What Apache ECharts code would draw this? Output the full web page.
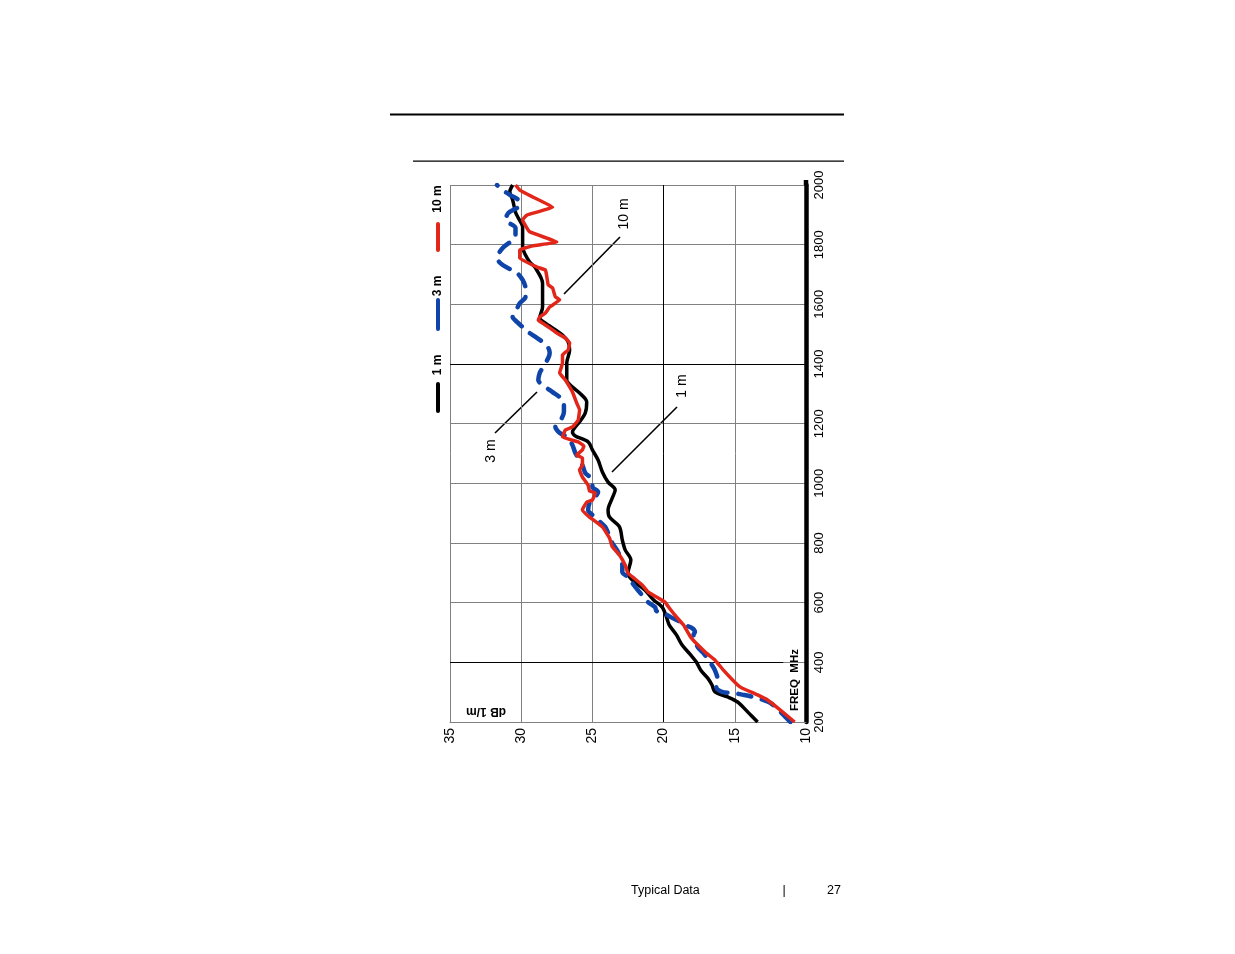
<!DOCTYPE html>
<html>
<head>
<meta charset="utf-8">
<script src="https://cdn.jsdelivr.net/npm/echarts@6/dist/echarts.min.js"></script>
<style>
html,body{margin:0;padding:0;background:#fff;}
#chart{width:1235px;height:954px;}
</style>
</head>
<body>
<div id="chart"></div>
<script>
// ---- data (frequency in MHz, field strength in dB 1/m) ----
const freq1m = [200,234,267,284,301,324,347,374,401,425,458,492,525,552,585,609,642,676,699,743,777,810,854,887,911,951,978,1004,1038,1078,1112,1139,1159,1172,1189,1206,1236,1273,1303,1323,1346,1403,1447,1474,1497,1521,1537,1554,1591,1648,1671,1722,1742,1765,1792,1826,1859,1889,1909,1950,1977,2000];
const db1m   = [13.4,14.1,14.8,15.5,16.4,16.6,16.9,17.4,17.7,18.1,18.7,19.1,19.6,19.8,20.1,20.7,21.3,22.2,22.5,22.3,22.7,22.9,23.1,23.8,23.9,23.6,23.4,23.9,24.3,24.6,25.0,25.3,26.2,26.4,26.2,25.9,25.5,25.4,25.9,26.4,26.8,26.8,26.6,26.7,27.1,27.8,28.3,28.7,28.5,28.5,28.5,29.0,29.4,29.7,29.9,29.9,29.9,30.2,30.4,30.6,30.8,30.6];

const freq3m = [200,234,264,274,284,291,297,301,317,341,374,398,431,451,492,502,515,525,535,549,565,572,585,602,619,636,666,683,703,726,770,800,834,854,877,894,911,934,944,971,988,1011,1035,1061,1085,1102,1128,1152,1169,1179,1189,1206,1239,1269,1289,1306,1323,1346,1370,1387,1420,1437,1454,1474,1491,1507,1524,1541,1558,1574,1604,1625,1655,1682,1705,1732,1755,1789,1816,1833,1856,1883,1906,1933,1950,1967,1983,2000];
const db3m   = [11.1,11.8,12.5,13.0,13.7,14.4,15.1,15.9,16.3,16.2,16.4,16.7,17.2,17.6,17.9,17.8,18.0,18.5,18.8,19.4,20.0,20.5,20.6,21.1,21.4,21.7,22.2,22.4,22.9,22.9,23.2,23.6,23.9,24.1,24.6,25.0,25.3,25.2,25.0,24.6,25.0,25.0,25.5,25.7,26.0,26.2,26.4,26.7,27.3,27.5,27.6,27.3,27.0,27.0,27.3,27.8,28.3,28.8,28.7,28.5,28.1,28.0,28.1,28.5,29.0,29.5,29.9,30.3,30.6,30.4,30.1,29.7,29.7,29.9,30.3,31.3,31.7,31.3,30.6,30.4,30.4,31.1,30.9,30.1,30.2,30.8,31.3,31.7];

const freq10m = [200,240,274,291,314,324,374,408,431,468,485,525,552,582,602,619,636,659,683,699,726,760,787,817,854,887,911,937,944,968,974,994,1021,1045,1061,1085,1095,1112,1125,1139,1155,1179,1189,1212,1246,1269,1306,1323,1346,1370,1403,1430,1447,1470,1487,1504,1521,1537,1547,1558,1571,1591,1615,1625,1655,1665,1692,1715,1725,1755,1782,1796,1809,1843,1883,1899,1926,1960,1983,2000];
const db10m   = [10.8,11.8,12.7,13.4,14.5,14.8,15.8,16.4,17.0,17.8,18.1,18.6,19.1,19.6,19.9,20.5,21.1,21.5,22.1,22.5,22.7,23.1,23.6,23.8,24.3,25.2,25.7,25.4,25.0,24.8,25.2,25.3,25.7,25.9,25.7,25.7,26.1,25.7,25.6,26.0,27.1,26.9,26.4,26.0,25.9,26.1,26.4,26.6,26.9,27.3,27.1,27.1,26.7,26.6,26.9,27.5,28.0,28.5,28.8,28.7,28.3,28.0,27.3,27.6,27.8,28.1,28.2,28.3,28.9,30.1,30.1,29.2,27.5,29.4,29.9,29.6,27.8,29.2,30.1,30.4];

const seriesNames = ['1 m','3 m','10 m'];
const dbTicks = [10,15,20,25,30,35];
const freqTicks = [200,400,600,800,1000,1200,1400,1600,1800,2000];
const darkDbLines = [20];
const darkFreqLines = [1400];
const darkFreqShortLine = {freq: 400, fromDb: 35, toDb: 11.6};

function pairs(f, d){ return f.map((v,i)=>[d[i], v]); }

const SANS = '"Liberation Sans",Arial,sans-serif';

const chart = echarts.init(document.getElementById('chart'), null, {renderer:'canvas'});

const markData = [];
darkDbLines.forEach(v=>markData.push({xAxis:v}));
darkFreqLines.forEach(v=>markData.push({yAxis:v}));
markData.push([{coord:[darkFreqShortLine.fromDb, darkFreqShortLine.freq]},{coord:[darkFreqShortLine.toDb, darkFreqShortLine.freq]}]);

const R90 = Math.PI/2;

const option = {
  backgroundColor:'#fff',
  animation:false,
  grid:{left:450, top:185, width:356, height:537, containLabel:false},
  xAxis:{
    type:'value', min:dbTicks[0], max:dbTicks[dbTicks.length-1], interval:5, inverse:true,
    position:'bottom',
    axisLine:{show:true, lineStyle:{color:'#808080', width:1}},
    axisTick:{show:false},
    axisLabel:{show:true, rotate:90, margin:6, fontSize:14, fontFamily:SANS, color:'#000', showMinLabel:true, showMaxLabel:true,
      formatter:(v)=>String(v)},
    splitLine:{show:true, lineStyle:{color:'#808080', width:1}}
  },
  yAxis:{
    type:'value', min:freqTicks[0], max:freqTicks[freqTicks.length-1], interval:200,
    position:'right',
    axisLine:{show:true, lineStyle:{color:'#000', width:4.5}},
    axisTick:{show:false},
    axisLabel:{show:true, rotate:90, margin:7, fontSize:13, fontFamily:SANS, color:'#000', showMinLabel:true, showMaxLabel:true,
      formatter:(v)=>String(v)},
    splitLine:{show:true, lineStyle:{color:'#808080', width:1}}
  },
  series:[
    {
      name:seriesNames[0], type:'line', data:pairs(freq1m, db1m), showSymbol:false, smooth:0.3,
      lineStyle:{color:'#000', width:3.5}, z:2,
      markLine:{silent:true, symbol:'none', label:{show:false}, lineStyle:{color:'#000', width:1, type:'solid'}, data:markData, z:1}
    },
    {
      name:seriesNames[1], type:'line', data:pairs(freq3m, db3m), showSymbol:false, smooth:0.3,
      lineStyle:{color:'#0f44aa', width:4.5, type:[13,11], cap:'round'}, z:3
    },
    {
      name:seriesNames[2], type:'line', data:pairs(freq10m, db10m), showSymbol:false, smooth:0.1,
      lineStyle:{color:'#e2261a', width:3.5}, z:4
    }
  ],
  graphic:[
    {type:'rect', shape:{x:390, y:113.5, width:454, height:2}, style:{fill:'#000'}, silent:true},
    {type:'rect', shape:{x:413, y:160.5, width:431, height:1.2}, style:{fill:'#000'}, silent:true},
    {type:'line', shape:{x1:806, y1:180, x2:806, y2:186}, style:{stroke:'#000', lineWidth:4.5}},
    // legend
    {type:'text', x:438, y:365, rotation:R90, style:{text:'1 m', font:'bold 12px '+SANS, fill:'#000', align:'center', verticalAlign:'middle'}},
    {type:'line', shape:{x1:438, y1:384, x2:438, y2:411}, style:{stroke:'#000', lineWidth:4, lineCap:'round'}},
    {type:'text', x:438, y:286, rotation:R90, style:{text:'3 m', font:'bold 12px '+SANS, fill:'#000', align:'center', verticalAlign:'middle'}},
    {type:'line', shape:{x1:438, y1:300, x2:438, y2:329}, style:{stroke:'#0f44aa', lineWidth:4, lineCap:'round'}},
    {type:'text', x:438, y:199, rotation:R90, style:{text:'10 m', font:'bold 12px '+SANS, fill:'#000', align:'center', verticalAlign:'middle'}},
    {type:'line', shape:{x1:438, y1:224, x2:438, y2:250}, style:{stroke:'#e2261a', lineWidth:4, lineCap:'round'}},
    // axis names
    {type:'text', x:486, y:711, rotation:Math.PI, style:{text:'dB 1/m', font:'bold 12px '+SANS, fill:'#000', align:'center', verticalAlign:'middle'}},
    {type:'text', x:795, y:680, rotation:R90, style:{text:'FREQ  MHz', font:'bold 11.5px '+SANS, fill:'#000', align:'center', verticalAlign:'middle'}},
    // annotations
    {type:'text', x:624, y:214, rotation:R90, style:{text:'10 m', font:'14px '+SANS, fill:'#000', align:'center', verticalAlign:'middle'}},
    {type:'line', shape:{x1:620, y1:237, x2:564, y2:294}, style:{stroke:'#000', lineWidth:1.6}},
    {type:'text', x:682, y:386, rotation:R90, style:{text:'1 m', font:'14px '+SANS, fill:'#000', align:'center', verticalAlign:'middle'}},
    {type:'line', shape:{x1:677, y1:407, x2:612, y2:472}, style:{stroke:'#000', lineWidth:1.6}},
    {type:'text', x:491, y:451, rotation:R90, style:{text:'3 m', font:'14px '+SANS, fill:'#000', align:'center', verticalAlign:'middle'}},
    {type:'line', shape:{x1:495, y1:433, x2:537, y2:392}, style:{stroke:'#000', lineWidth:1.6}},
    // footer
    {type:'text', x:631, y:891, style:{text:'Typical Data', font:'12.5px '+SANS, fill:'#000', align:'left', verticalAlign:'middle'}},
    {type:'text', x:784, y:891, style:{text:'|', font:'12.5px '+SANS, fill:'#000', align:'center', verticalAlign:'middle'}},
    {type:'text', x:841, y:891, style:{text:'27', font:'12.5px '+SANS, fill:'#000', align:'right', verticalAlign:'middle'}}
  ]
};
chart.setOption(option);
</script>
</body>
</html>
